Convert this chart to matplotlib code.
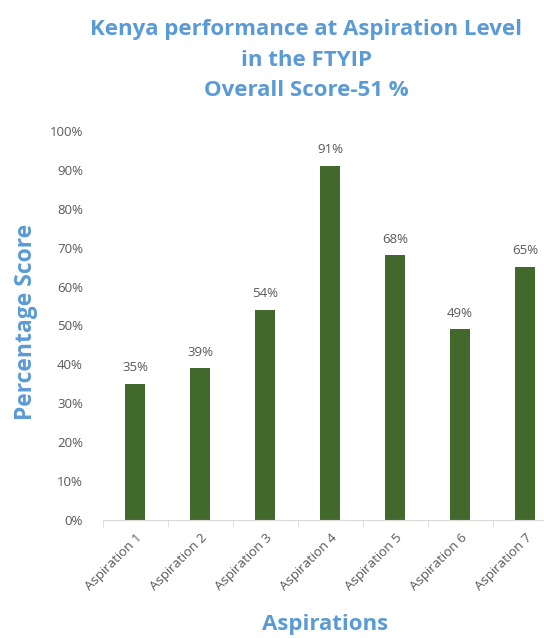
import numpy as np
import matplotlib.pyplot as plt
from matplotlib.ticker import FixedLocator, PercentFormatter

categories = ['Aspiration 1', 'Aspiration 2', 'Aspiration 3', 'Aspiration 4',
              'Aspiration 5', 'Aspiration 6', 'Aspiration 7']
scores = [35, 39, 54, 91, 68, 49, 65]

BLUE  = '#5b9bd5'
GREEN = '#41692b'
GREY  = '#595959'

plt.rcParams['font.family'] = ['Open Sans', 'DejaVu Sans']

fig = plt.figure(figsize=(5.44, 6.38), dpi=100)
ax = fig.add_axes([102.5/544, (638-520)/638, 455/544, 389/638])

x = np.arange(len(categories))
ax.bar(x, scores, width=0.32, color=GREEN, zorder=2)

for xi, v in zip(x, scores):
	ax.text(xi, v + 2.5, f'{v}%', ha='center', va='bottom', fontsize=9.5, color=GREY)

ax.set_xlim(-0.5, len(categories) - 0.5)
ax.set_ylim(0, 100)
ax.set_yticks(range(0, 101, 10))
ax.yaxis.set_major_formatter(PercentFormatter(decimals=0))
ax.tick_params(axis='y', length=0, labelsize=9.5, labelcolor=GREY, pad=14)

ax.set_xticks(x)
ax.set_xticklabels(categories, rotation=45, ha='right', rotation_mode='anchor',
                   fontsize=9.5, color=GREY)
ax.tick_params(axis='x', which='major', length=0, pad=8)
ax.xaxis.set_minor_locator(FixedLocator(np.arange(-0.5, len(categories), 1)))
ax.tick_params(axis='x', which='minor', length=5, color='#d9d9d9')

for s in ['top', 'right', 'left']:
	ax.spines[s].set_visible(False)
ax.spines['bottom'].set_color('#d9d9d9')

# title lines placed one by one so the gaps match
title_lines = ['Kenya performance at Aspiration Level', 'in the FTYIP', 'Overall Score-51 %']
for i, line in enumerate(title_lines):
	fig.text(0.563, 1 - (30 + 30*i)/638, line, ha='center', va='center',
	         fontsize=16, fontweight='bold', color=BLUE)
fig.text(0.048, 0.495, 'Percentage Score', rotation=90, ha='center', va='center',
         fontsize=16.5, fontweight='bold', color=BLUE)
fig.text(0.598, 0.021, 'Aspirations', ha='center', va='center',
         fontsize=16, fontweight='bold', color=BLUE)

plt.savefig('out.png', dpi=100)
